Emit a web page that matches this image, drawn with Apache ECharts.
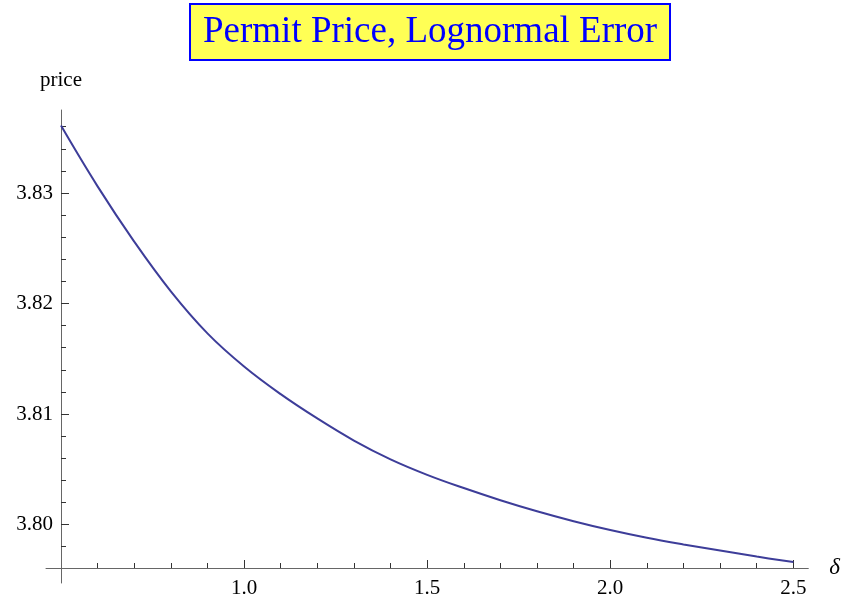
<!DOCTYPE html>
<html>
<head>
<meta charset="utf-8">
<script src="https://cdn.jsdelivr.net/npm/echarts@6/dist/echarts.min.js"></script>
<style>
  html, body { margin: 0; padding: 0; background: #fff; }
  #chart { width: 843px; height: 603px; }
</style>
</head>
<body>
<div id="chart"></div>
<script>
// Permit price as a function of delta (lognormal error)
const delta = [0.5, 0.6, 0.7, 0.8, 0.9, 1.0, 1.1, 1.2, 1.3, 1.4, 1.5,
               1.6, 1.7, 1.8, 1.9, 2.0, 2.1, 2.2, 2.3, 2.4, 2.5];
const price = [3.8361, 3.8306, 3.8256, 3.8211, 3.8173, 3.8143, 3.8118, 3.8096,
               3.8076, 3.8059, 3.8045, 3.8033, 3.8022, 3.8012, 3.8003, 3.7995,
               3.7988, 3.7982, 3.79765, 3.7971, 3.7966];

const xMajorTicks = [1.0, 1.5, 2.0, 2.5];
const xMinorTicks = [0.6, 0.7, 0.8, 0.9, 1.1, 1.2, 1.3, 1.4, 1.6, 1.7, 1.8, 1.9,
                     2.1, 2.2, 2.3, 2.4];
const yMajorTicks = [3.80, 3.81, 3.82, 3.83];
const yMinorTicks = [3.798, 3.802, 3.804, 3.806, 3.808, 3.812, 3.814, 3.816,
                     3.818, 3.822, 3.824, 3.826, 3.828, 3.832, 3.834, 3.836];

const serif = "'Liberation Serif', 'Times New Roman', serif";
const axisGray = '#666';
const tickColor = '#333';

// axes run a little past the plotted range, crossing at delta = 0.5
const xRange = { min: 0.4591, max: 2.5409 };
const yRange = { min: 3.79471, max: 3.83751 };

const chart = echarts.init(document.getElementById('chart'), null, { renderer: 'canvas' });

const baseX = {
  type: 'value', position: 'bottom', offset: -15,
  min: xRange.min, max: xRange.max,
  splitLine: { show: false }
};
const baseY = {
  type: 'value', position: 'left', offset: -15,
  min: yRange.min, max: yRange.max,
  splitLine: { show: false }
};

chart.setOption({
  animation: false,
  backgroundColor: '#ffffff',
  title: {
    text: 'Permit Price, Lognormal Error',
    left: 190, top: 4,
    backgroundColor: '#ffff55',
    borderColor: '#0000ff',
    borderWidth: 2,
    padding: [10, 13, 9, 13],
    textStyle: { fontFamily: serif, fontSize: 37, fontWeight: 'normal', color: '#0000ff' }
  },
  grid: { left: 46, right: 31, top: 110, bottom: 20, containLabel: false },
  xAxis: [
    Object.assign({}, baseX, {
      name: 'δ',
      nameLocation: 'end',
      nameGap: 21,
      nameTextStyle: { fontFamily: serif, fontSize: 23, fontStyle: 'italic', color: '#000',
                       verticalAlign: 'middle', padding: [4, 0, 0, 0] },
      axisLine: { show: true, lineStyle: { color: axisGray, width: 1 } },
      axisTick: { show: true, inside: true, length: 8, customValues: xMajorTicks,
                  lineStyle: { color: tickColor, width: 1 } },
      axisLabel: { show: true, customValues: xMajorTicks, margin: 10,
                   formatter: v => v.toFixed(1),
                   fontFamily: serif, fontSize: 21, color: '#000' }
    }),
    Object.assign({}, baseX, {
      axisLine: { show: false },
      axisTick: { show: true, inside: true, length: 5, customValues: xMinorTicks,
                  lineStyle: { color: tickColor, width: 1 } },
      axisLabel: { show: false }
    })
  ],
  yAxis: [
    Object.assign({}, baseY, {
      name: 'price',
      nameLocation: 'end',
      nameGap: 19,
      nameTextStyle: { fontFamily: serif, fontSize: 21, color: '#000', align: 'center' },
      axisLine: { show: true, lineStyle: { color: axisGray, width: 1 } },
      axisTick: { show: true, inside: true, length: 8, customValues: yMajorTicks,
                  lineStyle: { color: tickColor, width: 1 } },
      axisLabel: { show: true, customValues: yMajorTicks, margin: 8,
                   formatter: v => v.toFixed(2),
                   fontFamily: serif, fontSize: 21, color: '#000' }
    }),
    Object.assign({}, baseY, {
      axisLine: { show: false },
      axisTick: { show: true, inside: true, length: 5, customValues: yMinorTicks,
                  lineStyle: { color: tickColor, width: 1 } },
      axisLabel: { show: false }
    })
  ],
  series: [{
    type: 'line',
    xAxisIndex: 0,
    yAxisIndex: 0,
    data: delta.map((d, i) => [d, price[i]]),
    smooth: 0.4,
    showSymbol: false,
    lineStyle: { color: '#3d3d99', width: 2 }
  }]
});
</script>
</body>
</html>
